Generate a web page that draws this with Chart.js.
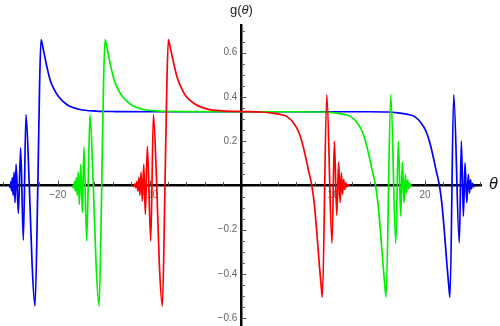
<!DOCTYPE html>
<html>
<head>
<meta charset="utf-8">
<script src="https://cdn.jsdelivr.net/npm/chart.js@4/dist/chart.umd.min.js"></script>
<style>
  html, body { margin: 0; padding: 0; background: #fff; }
  #wrap { width: 500px; height: 326px; position: relative; }
</style>
</head>
<body>
<div id="wrap"><canvas id="chart"></canvas></div>
<script>
// g(theta), three curves
var blueTheta = [-25.26, -25.17, -25.10, -25.02, -24.95, -24.86, -24.76, -24.65, -24.54, -24.29, -24.04, -23.75, -23.46, -23.10, -22.80, -22.48, -22.17, -21.98, -21.82, -21.57, -21.20, -20.84, -20.48, -19.94, -19.02, -17.57, -15.83, -13.65, -8, 0, 8, 14, 15.97, 17.06, 18.11, 18.84, 19.56, 20.11, 20.48, 20.84, 21.19, 21.57, 21.85, 22.11, 22.39, 22.58, 22.72, 23.13, 23.74, 23.96, 24.18, 24.36, 24.55, 24.72, 24.85, 24.96, 25.07, 25.18, 25.29, 25.40];
var blueG = [0, -0.01, 0.018, -0.025, 0.035, -0.045, 0.06, -0.078, 0.095, -0.126, 0.17, -0.247, 0.32, 0, -0.35, -0.545, 0, 0.45, 0.659, 0.614, 0.539, 0.478, 0.441, 0.403, 0.366, 0.343, 0.336, 0.334, 0.333, 0.333, 0.333, 0.333, 0.332, 0.328, 0.321, 0.312, 0.283, 0.245, 0.2, 0.14, 0.072, 0, -0.087, -0.208, -0.358, -0.448, -0.505, 0.411, -0.259, 0.2, -0.139, 0.102, -0.078, 0.05, -0.035, 0.025, -0.015, 0.01, -0.005, 0];

var greenTheta = [-18.40, -18.28, -18.18, -18.08, -17.98, -17.88, -17.77, -17.65, -17.50, -17.32, -17.14, -16.85, -16.49, -16.13, -15.83, -15.50, -15.21, -15.02, -14.85, -14.60, -14.23, -13.87, -13.51, -12.97, -12.05, -10.60, -8.86, -6.68, 0, 6, 9.01, 10.10, 11.15, 11.88, 12.60, 13.15, 13.52, 13.88, 14.23, 14.61, 14.89, 15.15, 15.43, 15.62, 15.76, 16.27, 16.82, 17.10, 17.36, 17.53, 17.72, 17.86, 17.99, 18.11, 18.23, 18.35, 18.46, 18.57];
var greenG = [0, -0.01, 0.018, -0.025, 0.035, -0.045, 0.06, -0.086, 0.095, -0.123, 0.175, -0.251, 0.32, 0, -0.35, -0.545, 0, 0.45, 0.659, 0.614, 0.539, 0.478, 0.441, 0.403, 0.366, 0.343, 0.336, 0.334, 0.333, 0.333, 0.332, 0.328, 0.321, 0.312, 0.283, 0.245, 0.2, 0.14, 0.072, 0, -0.087, -0.208, -0.358, -0.448, -0.505, 0.411, -0.262, 0.2, -0.139, 0.105, -0.078, 0.05, -0.035, 0.025, -0.015, 0.01, -0.005, 0];

var redTheta = [-11.86, -11.70, -11.60, -11.49, -11.38, -11.27, -11.16, -11.05, -10.93, -10.79, -10.63, -10.46, -10.24, -9.87, -9.58, -9.22, -8.94, -8.61, -8.32, -8.12, -7.95, -7.70, -7.33, -6.97, -6.61, -6.07, -5.15, -3.70, -1.96, 0.22, 2.07, 3.16, 4.21, 4.94, 5.66, 6.21, 6.58, 6.94, 7.29, 7.67, 7.95, 8.21, 8.49, 8.68, 8.82, 9.30, 9.87, 10.13, 10.39, 10.60, 10.75, 10.89, 11.02, 11.14, 11.26, 11.38, 11.50, 11.62, 11.78];
var redG = [0, -0.004, 0.007, -0.01, 0.018, -0.025, 0.035, -0.045, 0.06, -0.07, 0.095, -0.13, 0.177, -0.251, 0.32, 0, -0.35, -0.545, 0, 0.45, 0.659, 0.614, 0.545, 0.485, 0.448, 0.405, 0.37, 0.345, 0.337, 0.334, 0.332, 0.328, 0.321, 0.312, 0.283, 0.245, 0.2, 0.14, 0.072, 0, -0.087, -0.208, -0.358, -0.448, -0.505, 0.411, -0.262, 0.2, -0.135, 0.105, -0.078, 0.057, -0.04, 0.028, -0.018, 0.012, -0.007, 0.004, 0];

var xTickValues = [-20, -10, 10, 20];
var yTickValues = [-0.6, -0.4, -0.2, 0.2, 0.4, 0.6];

function toPoints(xs, ys) {
    var pts = [];
    for (var i = 0; i < xs.length; i++) {
        pts.push({ x: xs[i], y: ys[i] });
    }
    return pts;
}

function fmtTick(v, digits) {
    var s = Math.abs(v).toFixed(digits);
    return v < 0 ? '\u2212' + s : s;
}

// keep the crossing axes from eating room in the layout
function noRoom(s) {
    if (s.isHorizontal()) s.height = 0; else s.width = 0;
    s.paddingTop = 0;
    s.paddingBottom = 0;
    s.paddingLeft = 0;
    s.paddingRight = 0;
}

// minor/major tick marks and the two axis names, Mathematica style
var axisDecor = {
    id: 'axisDecor',
    beforeDatasetsDraw: function (chart) {
        var ctx = chart.ctx;
        var xs = chart.scales.x, ys = chart.scales.y;
        var x0 = xs.getPixelForValue(0), y0 = ys.getPixelForValue(0);
        ctx.save();
        ctx.strokeStyle = '#555';
        ctx.lineWidth = 1;
        ctx.beginPath();
        for (var t = -26; t <= 26; t += 2) {
            if (t === 0) continue;
            var len = (t % 10 === 0) ? 4 : 2.5;
            var px = Math.round(xs.getPixelForValue(t)) + 0.5;
            ctx.moveTo(px, y0);
            ctx.lineTo(px, y0 - len - 1);
        }
        for (var k = -12; k <= 14; k++) {
            if (k === 0) continue;
            var len2 = (k % 4 === 0) ? 4 : 2.5;
            var py = Math.round(ys.getPixelForValue(k * 0.05)) + 0.5;
            ctx.moveTo(x0, py);
            ctx.lineTo(x0 + len2 + 1, py);
        }
        ctx.stroke();

        // g(θ) on top of the vertical axis
        ctx.fillStyle = '#222';
        ctx.textBaseline = 'middle';
        var reg = '13px Arial, "Liberation Sans", sans-serif';
        var ita = 'italic 13px Arial, "Liberation Sans", sans-serif';
        ctx.font = reg;
        var w1 = ctx.measureText('g(').width;
        var w3 = ctx.measureText(')').width;
        ctx.font = ita;
        var w2 = ctx.measureText('\u03b8').width;
        var start = x0 - (w1 + w2 + w3) / 2;
        ctx.textAlign = 'left';
        ctx.font = reg;
        ctx.fillText('g(', start, 10);
        ctx.font = ita;
        ctx.fillText('\u03b8', start + w1, 10);
        ctx.font = reg;
        ctx.fillText(')', start + w1 + w2, 10);

        // θ at the right end of the horizontal axis
        ctx.font = 'italic 16px Arial, "Liberation Sans", sans-serif';
        ctx.fillStyle = '#111';
        ctx.fillText('\u03b8', xs.right + 8, y0 - 1);
        ctx.restore();
    }
};

var ctx = document.getElementById('chart');
var chart = new Chart(ctx, {
    type: 'line',
    data: {
        datasets: [
            {
                label: 'blue',
                data: toPoints(blueTheta, blueG),
                borderColor: 'rgb(0,0,255)',
                order: 3
            },
            {
                label: 'green',
                data: toPoints(greenTheta, greenG),
                borderColor: 'rgb(0,240,0)',
                order: 2
            },
            {
                label: 'red',
                data: toPoints(redTheta, redG),
                borderColor: 'rgb(255,0,0)',
                order: 1
            }
        ]
    },
    options: {
        responsive: true,
        maintainAspectRatio: false,
        animation: false,
        parsing: false,
        datasets: {
            line: {
                borderWidth: 1.7,
                pointRadius: 0,
                fill: false,
                cubicInterpolationMode: 'monotone'
            }
        },
        layout: {
            padding: { top: 25, right: 19, bottom: 0, left: 0 }
        },
        plugins: {
            legend: { display: false },
            tooltip: { enabled: false },
            title: { display: false }
        },
        scales: {
            x: {
                type: 'linear',
                min: -26.29,
                max: 26.1,
                position: { y: 0 },
                afterFit: noRoom,
                afterBuildTicks: function (s) {
                    s.ticks = xTickValues.map(function (v) { return { value: v }; });
                },
                grid: { display: false, drawTicks: false },
                border: { display: true, color: '#000', width: 2.5 },
                ticks: {
                    autoSkip: false,
                    maxRotation: 0,
                    padding: 4,
                    color: '#666',
                    font: { size: 10 },
                    callback: function (v) { return fmtTick(v, 0); }
                }
            },
            y: {
                type: 'linear',
                min: -0.635,
                max: 0.725,
                position: { x: 0 },
                afterFit: noRoom,
                afterBuildTicks: function (s) {
                    s.ticks = yTickValues.map(function (v) { return { value: v }; });
                },
                grid: { display: false, drawTicks: false },
                border: { display: true, color: '#000', width: 2.5 },
                ticks: {
                    autoSkip: false,
                    padding: 4,
                    color: '#666',
                    font: { size: 10 },
                    callback: function (v) { return fmtTick(v, 1) + '\u2009\u2009'; }
                }
            }
        }
    },
    plugins: [axisDecor]
});
</script>
</body>
</html>
